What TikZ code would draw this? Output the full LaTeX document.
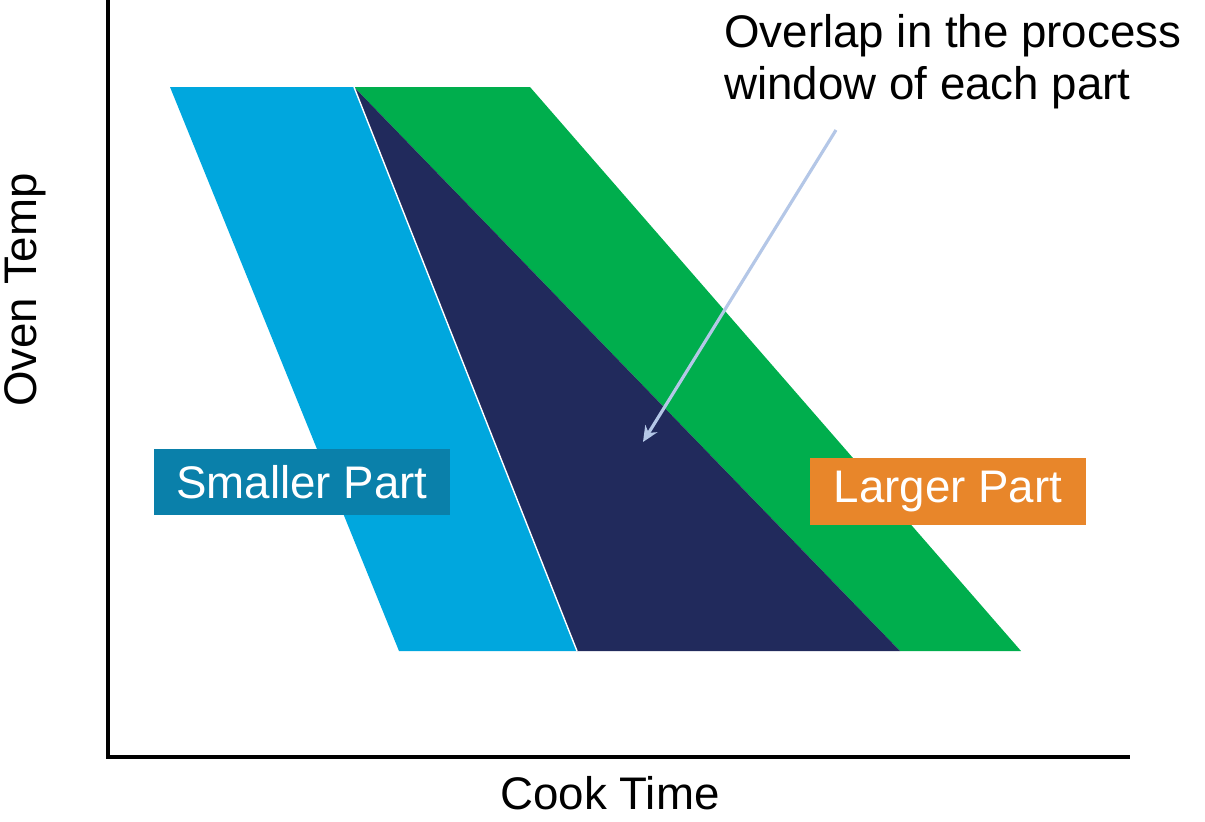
\documentclass[tikz,border=0pt]{standalone}
\usepackage{fontspec}
\setmainfont{Liberation Sans}
\usepackage{tikz}
\usetikzlibrary{arrows.meta, positioning}
\definecolor{smallblue}{RGB}{0, 167, 222}
\definecolor{largegreen}{RGB}{0, 174, 77}
\definecolor{overlapnavy}{RGB}{33, 42, 92}
\definecolor{smalltag}{RGB}{10, 128, 170}
\definecolor{largetag}{RGB}{232, 134, 42}
\definecolor{pointer}{RGB}{180, 199, 231}

\begin{document}
\begin{tikzpicture}[
    x={(0.02cm,0)}, y={(0,-0.02cm)},
    every node/.style={font=\fontsize{26}{29.6}\selectfont},
    tag/.style={rectangle, text=white, inner sep=0pt, minimum height=1.33cm, align=center},
    axis/.style={line width=2pt, black},
    arrow/.style={-{Stealth[length=9pt, width=8pt]}, line width=1.8pt, pointer}
]
    \useasboundingbox (0,0) rectangle (1205,822);

    \fill[smallblue] (170,87) -- (354,87) -- (577,651) -- (399,651) -- cycle;
    \fill[largegreen] (354,87) -- (530,87) -- (1021,651) -- (900,651) -- cycle;
    \fill[overlapnavy] (354,87) -- (900,651) -- (577,651) -- cycle;
    \draw[white, line width=0.8pt] (354,87) -- (577,651);

    \draw[axis] (108,0) -- (108,757) -- (1130,757);

    \node (ytitle) [rotate=90, inner sep=0pt] at (25,290) {Oven Temp};
    \node (xtitle) [anchor=base, inner sep=0pt] at (610,809) {Cook Time};

    \node (small) [tag, fill=smalltag, minimum width=5.92cm] at (302,482) {Smaller Part};
    \node (large) [tag, fill=largetag, minimum width=5.52cm] at (948,491.5) {Larger Part};

    \node (overlap) [anchor=north west, inner sep=0pt, align=left] at (724,14) {Overlap in the process\\window of each part};

    \coordinate (tail) at (836,130);
    \coordinate (tip) at (643,442);
    \draw [arrow] (tail) -- (tip);
\end{tikzpicture}
\end{document}
